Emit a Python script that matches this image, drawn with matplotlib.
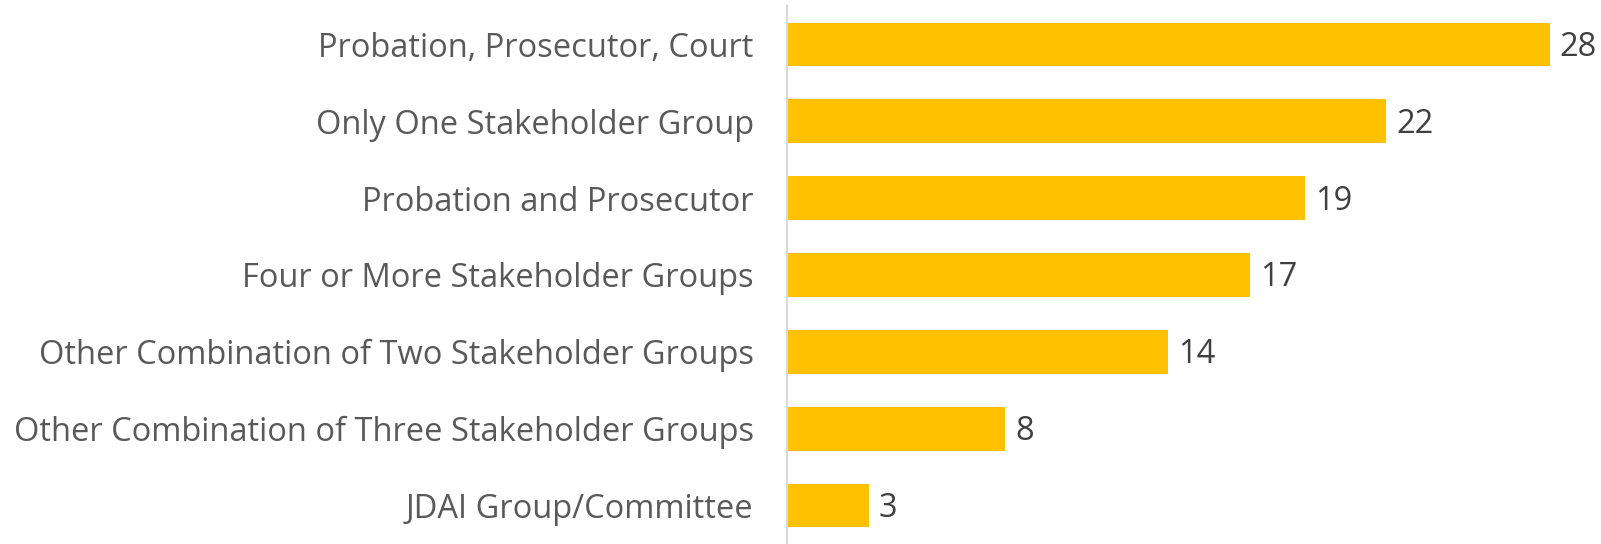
import matplotlib
matplotlib.use("Agg")
import matplotlib.pyplot as plt

# data (top to bottom)
categories = [
    "Probation, Prosecutor, Court",
    "Only One Stakeholder Group",
    "Probation and Prosecutor",
    "Four or More Stakeholder Groups",
    "Other Combination of Two Stakeholder Groups",
    "Other Combination of Three Stakeholder Groups",
    "JDAI Group/Committee",
]
counts = [28, 22, 19, 17, 14, 8, 3]

plt.rcParams["font.family"] = ["Open Sans", "DejaVu Sans"]

fig = plt.figure(figsize=(16.01, 5.44), dpi=100)
ax = fig.add_axes([0.4916, 0.0, 0.4934, 0.989])

y = list(range(len(categories)))
bars = ax.barh(y, counts, height=0.57, color="#FFC000")

for b, v in zip(bars, counts):
    ax.annotate(str(v), (b.get_width(), b.get_y() + b.get_height() / 2),
                xytext=(10, -3), textcoords="offset pixels",
                ha="left", va="center", fontsize=23.5, color="#404040")

ax.set_yticks(y)
ax.set_yticklabels(categories, fontsize=23.5, color="#595959")
ax.set_ylim(len(categories) - 0.5, -0.5)
ax.set_xlim(0, 29)

ax.tick_params(axis="y", length=0, pad=24)
ax.set_xticks([])
for s in ["top", "right", "bottom"]:
    ax.spines[s].set_visible(False)
ax.spines["left"].set_color("#D9D9D9")
ax.spines["left"].set_linewidth(1.5)

fig.savefig("out.png", dpi=100)
